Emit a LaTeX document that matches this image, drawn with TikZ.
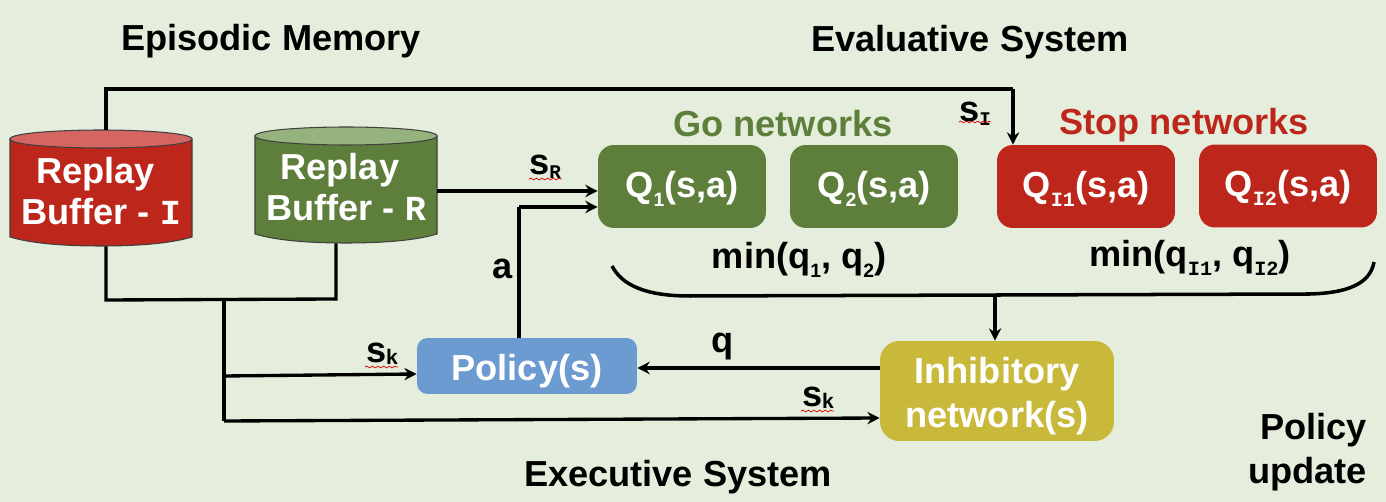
\documentclass[tikz,border=0pt]{standalone}
\usepackage{fontspec}
\setmainfont{Liberation Sans}
\newfontfamily\monof{Liberation Mono}
\usetikzlibrary{arrows.meta,decorations.pathmorphing}
\definecolor{bgc}{HTML}{E5EEDC}
\definecolor{redc}{HTML}{BD261A}
\definecolor{redt}{HTML}{D46561}
\definecolor{greenc}{HTML}{5E7F3C}
\definecolor{greent}{HTML}{97B37D}
\definecolor{bluec}{HTML}{6C9BD2}
\definecolor{yellowc}{HTML}{C9B93A}
\newcommand{\msubb}[1]{{\monof\fontsize{11.5}{11.5}\selectfont\bfseries #1}}
\newcommand{\nsub}[1]{\raisebox{-0.25em}{\fontsize{11}{11}\selectfont #1}}
\newcommand{\dn}[2]{\raisebox{-#1}[0pt][0pt]{#2}}
% cylinder: x-left, x-right, y-top, body colour, end colour
\newcommand{\cylshape}[5]{%
  \pgfmathsetmacro{\xm}{(#1+#2)/2}%
  \pgfmathsetmacro{\ya}{#3+9}%
  \pgfmathsetmacro{\yb}{#3+18}%
  \pgfmathsetmacro{\yc}{#3+107}%
  \pgfmathsetmacro{\yd}{#3+116}%
  \pgfmathsetmacro{\xc}{#1+50}%
  \pgfmathsetmacro{\xe}{#2-50}%
  \draw[cyledge,fill=#4] (#1,\ya) -- (#1,\yc) .. controls (\xc-30,\yd-3) and (\xc,\yd) .. (\xm,\yd) .. controls (\xe,\yd) and (\xe+30,\yd-3) .. (#2,\yc) -- (#2,\ya) -- cycle;
  \draw[cyledge,fill=#5] (#1,\ya) .. controls (#1,#3+3) and (\xc,#3) .. (\xm,#3) .. controls (\xe,#3) and (#2,#3+3) .. (#2,\ya) .. controls (#2,\yb-3) and (\xe,\yb) .. (\xm,\yb) .. controls (\xc,\yb) and (#1,\yb-3) .. cycle;
}
\tikzset{
  x=0.02cm,y=-0.02cm,
  boxn/.style={rounded corners=9pt,minimum height=1.66cm,text=white,font=\fontsize{20.6}{24}\selectfont\bfseries,inner sep=0pt},
  cylarea/.style={minimum width=3.64cm,minimum height=2.32cm,inner sep=0pt},
  cyledge/.style={draw=black!75,line width=0.6pt},
  celltext/.style={text=white,font=\fontsize{20.6}{24}\selectfont\bfseries,align=center},
  head/.style={font=\fontsize{20.6}{24}\selectfont\bfseries,inner sep=0pt},
  lab/.style={font=\fontsize{20.6}{24}\selectfont\bfseries,inner sep=0pt},
  conn/.style={line width=1.9pt,draw=black},
  arr/.style={conn,-{Stealth[length=7pt,width=7pt]}},
  squig/.style={draw=red!85!black,line width=0.4pt,decorate,decoration={snake,amplitude=0.5pt,segment length=3.2pt}}
}
\begin{document}
\begin{tikzpicture}
\useasboundingbox (0,0) rectangle (1386,502);
\fill[bgc] (0,0) rectangle (1386,502);

% cylinders
\cylshape{10}{192}{130}{redc}{redt}
\cylshape{255}{437}{127}{greenc}{greent}
\node[cylarea] (bufI) at (101,188) {};
\node[cylarea] (bufR) at (346,185) {};
\node[celltext] (bufIt) at (101,191) {\mbox{Replay\kern 6pt}\\[-1pt]Buffer - {\monof\fontsize{20}{24}\selectfont I}};
\node[celltext] (bufRt) at (346,187) {\mbox{Replay\kern 7pt}\\[-1pt]Buffer - {\monof\fontsize{20}{24}\selectfont R}};

% boxes
\node[boxn,fill=greenc,minimum width=3.36cm] (q1) at (682,186.5) {\dn{6pt}{Q\nsub{1}(s,a)}};
\node[boxn,fill=greenc,minimum width=3.36cm] (q2) at (874,186.5) {\dn{6pt}{Q\nsub{2}(s,a)}};
\node[boxn,fill=redc,minimum width=3.56cm] (qi1) at (1086,186.5) {\dn{6pt}{Q\raisebox{-0.25em}{\msubb{I1}}(s,a)}};
\node[boxn,fill=redc,minimum width=3.56cm] (qi2) at (1288,186) {\dn{6pt}{Q\raisebox{-0.25em}{\msubb{I2}}(s,a)}};
\node[boxn,fill=bluec,minimum width=4.4cm,minimum height=1.12cm,rounded corners=6pt] (pol) at (527,366) {\dn{8pt}{Policy(s)}};
\node[boxn,fill=yellowc,minimum width=4.68cm,minimum height=2cm,rounded corners=11pt] (inh) at (997,391) {};
\node[celltext] (inht) at (997,396) {Inhibitory\\[1pt]network(s)};

% headings
\node[head] (t1) at (271,41) {Episodic Memory};
\node[head] (t2) at (970,42) {Evaluative System};
\node[head] (t3) at (678,477) {Executive System};
\node[head,text=greenc] (t4) at (783,124) {Go networks};
\node[head,text=redc] (t5) at (1184,125) {Stop networks};
\node[head,align=right,anchor=east,font=\fontsize{20.6}{25}\selectfont\bfseries] (t6) at (1367,452) {Policy\\update};
\node[lab] (m1) at (799,260) {min(q\nsub{1}, q\nsub{2})};
\node[lab] (m2) at (1190,258) {min(q\raisebox{-0.25em}{\msubb{I1}}, q\raisebox{-0.25em}{\msubb{I2}})};
\node[lab] (la) at (503,269) {a};
\node[lab] (lq) at (723,347) {q};

% connector coordinates
\coordinate (topL) at (106,89);
\coordinate (topR) at (1013,89);
\coordinate (joinI) at (106,300);
\coordinate (joinR) at (336,299);
\coordinate (jn) at (224,300);
\coordinate (jp) at (224,376);
\coordinate (jb) at (224,421);
\coordinate (ab) at (519,207);
\coordinate (bl) at (612,266);
\coordinate (br) at (1374,262);
\coordinate (bm) at (995,295);
\coordinate (rout) at (437,191);

\draw[conn] (topL |- bufI.north) -- (topL) -- (topR);
\draw[arr] (topR) -- (topR |- qi1.north);
\draw[conn] (joinI |- bufI.south) -- (joinI) -- (joinR) -- (joinR |- bufR.south);
\draw[conn] (jn) -- (jb);
\draw[arr] (jp) -- (pol.west |- 0,374);
\draw[arr] (jb) -- (inh.west |- 0,418);
\draw[arr] (rout) -- (q1.west |- rout);
\draw[conn] (ab |- pol.north) -- (ab);
\draw[arr] (ab) -- (q1.west |- ab);
\draw[arr] (inh.west |- 0,368) -- (pol.east |- 0,368);
\draw[line width=2pt] (bl) .. controls (622,285) and (645,296) .. (690,296) -- (1310,294) .. controls (1345,293) and (1370,285) .. (br);
\draw[arr] (bm) -- (bm |- inh.north);

% state labels
\node[lab] (sr) at (545,167) {s\raisebox{-0.1em}{\fontsize{11}{11}\selectfont\monof\bfseries R}};
\node[lab] (si) at (975,114) {s\raisebox{-0.1em}{\fontsize{11}{11}\selectfont\monof\bfseries I}};
\node[lab] (sk1) at (382,354) {s\raisebox{-0.05em}{\fontsize{12}{12}\selectfont k}};
\node[lab] (sk2) at (818,398) {s\raisebox{-0.05em}{\fontsize{12}{12}\selectfont k}};
\draw[squig] (529,179) -- (562,179);
\draw[squig] (959,122) -- (991,122);
\draw[squig] (365,367) -- (398,367);
\draw[squig] (801,411) -- (834,411);
\end{tikzpicture}
\end{document}
